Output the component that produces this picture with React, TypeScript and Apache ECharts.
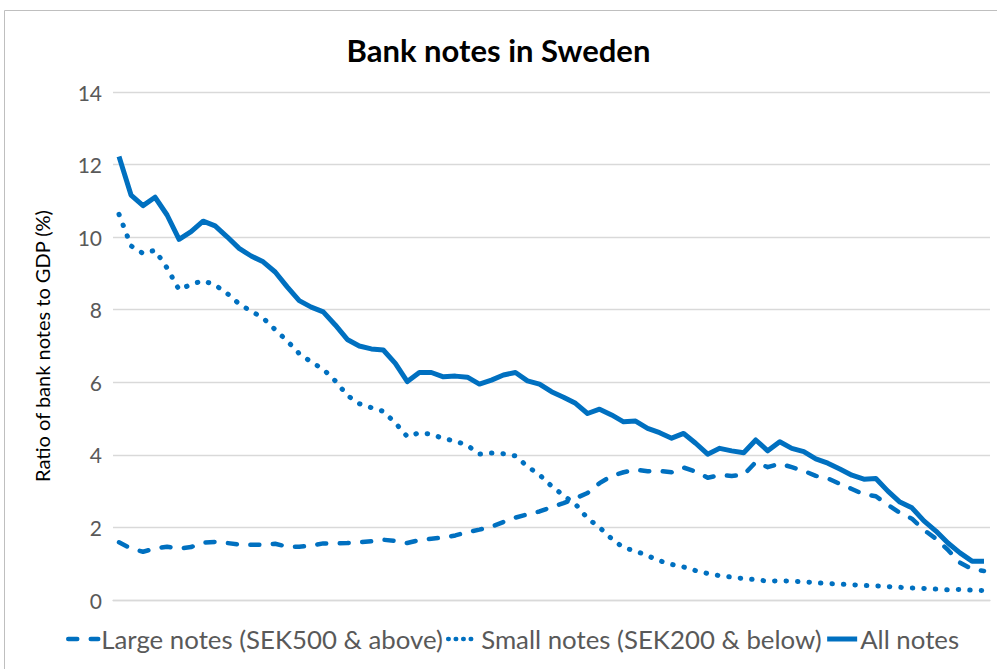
import React, { useEffect, useRef } from "react";
import * as echarts from "echarts";

const years = [
  "1950","1951","1952","1953","1954","1955","1956","1957","1958","1959",
  "1960","1961","1962","1963","1964","1965","1966","1967","1968","1969",
  "1970","1971","1972","1973","1974","1975","1976","1977","1978","1979",
  "1980","1981","1982","1983","1984","1985","1986","1987","1988","1989",
  "1990","1991","1992","1993","1994","1995","1996","1997","1998","1999",
  "2000","2001","2002","2003","2004","2005","2006","2007","2008","2009",
  "2010","2011","2012","2013","2014","2015","2016","2017","2018","2019",
  "2020","2021","2022",
];

const largeNotes = [
  1.59, 1.42, 1.33, 1.42, 1.47, 1.42, 1.46, 1.58, 1.6, 1.57,
  1.53, 1.52, 1.52, 1.55, 1.47, 1.47, 1.5, 1.56, 1.56, 1.57,
  1.59, 1.62, 1.66, 1.63, 1.57, 1.65, 1.69, 1.72, 1.78, 1.87,
  1.94, 2.02, 2.15, 2.27, 2.36, 2.44, 2.56, 2.67, 2.8, 2.95,
  3.22, 3.42, 3.52, 3.59, 3.55, 3.56, 3.52, 3.65, 3.54, 3.37,
  3.44, 3.42, 3.45, 3.8, 3.66, 3.76, 3.66, 3.56, 3.42, 3.35,
  3.2, 3.06, 2.91, 2.86, 2.62, 2.4, 2.24, 1.93, 1.69, 1.38,
  1.03, 0.85, 0.8,
];

const smallNotes = [
  10.63, 9.76, 9.55, 9.64, 9.15, 8.55, 8.7, 8.8, 8.68, 8.45,
  8.16, 7.96, 7.77, 7.45, 7.14, 6.79, 6.56, 6.36, 6.04, 5.64,
  5.41, 5.3, 5.2, 4.88, 4.5, 4.61, 4.57, 4.45, 4.38, 4.26,
  4.02, 4.05, 4.03, 3.97, 3.68, 3.45, 3.14, 2.88, 2.64, 2.25,
  2.0, 1.69, 1.44, 1.35, 1.22, 1.08, 0.98, 0.91, 0.81, 0.73,
  0.67, 0.63, 0.59, 0.56, 0.52, 0.53, 0.52, 0.5, 0.48, 0.45,
  0.44, 0.42, 0.4, 0.39, 0.37, 0.35, 0.33, 0.32, 0.3, 0.28,
  0.29, 0.27, 0.26,
];

const allNotes = [
  12.22, 11.16, 10.87, 11.1, 10.61, 9.94, 10.15, 10.44, 10.31, 10.01,
  9.69, 9.48, 9.32, 9.04, 8.63, 8.25, 8.07, 7.94, 7.58, 7.18,
  7.0, 6.92, 6.89, 6.52, 6.02, 6.27, 6.27, 6.15, 6.17, 6.14,
  5.95, 6.06, 6.2, 6.27, 6.04, 5.95, 5.74, 5.59, 5.42, 5.14,
  5.26, 5.1, 4.91, 4.93, 4.73, 4.61, 4.46, 4.59, 4.32, 4.02,
  4.18, 4.11, 4.06, 4.41, 4.11, 4.36, 4.18, 4.09, 3.89, 3.77,
  3.61, 3.44, 3.33, 3.35, 3.0, 2.7, 2.54, 2.18, 1.9, 1.57,
  1.3, 1.07, 1.07,
];

const yTicks = { min: 0, max: 14, interval: 2 };

const BLUE = "#0070C0";
const FONT = "Lato, 'Open Sans', sans-serif";
const DASH = [9, 13.5];
const DOT = [0.5, 11];

export default function App() {
  const ref = useRef<HTMLDivElement>(null);

  useEffect(() => {
    if (!ref.current) return;
    const chart = echarts.init(ref.current, null, { renderer: "svg" });
    chart.setOption({
      animation: false,
      backgroundColor: "#ffffff",
      textStyle: { fontFamily: FONT },
      title: {
        text: "Bank notes in Sweden",
        left: "center",
        top: 29,
        textStyle: { fontSize: 31, fontWeight: "bold", color: "#000000", fontFamily: FONT },
      },
      graphic: [
        {
          type: "rect",
          shape: { x: 4.5, y: 10.5, width: 1000, height: 700 },
          style: { fill: "none", stroke: "#bfbfbf", lineWidth: 1 },
          silent: true,
        },
      ],
      grid: { left: 113, right: 7, top: 92, bottom: 69, containLabel: false },
      legend: {
        bottom: 12,
        left: 61,
        itemWidth: 30,
        itemHeight: 14,
        itemGap: 3,
        itemStyle: { opacity: 0 },
        textStyle: { fontSize: 25.8, color: "#595959", fontFamily: FONT, padding: [0, 0, 0, -2] },
        data: [
          { name: "Large notes (SEK500 & above)", lineStyle: { width: 4.5, type: DASH, cap: "round", color: BLUE } },
          { name: "Small notes (SEK200 & below)", lineStyle: { width: 4.5, type: [0.5, 7], cap: "round", color: BLUE } },
          { name: "All notes", lineStyle: { width: 5, type: "solid", color: BLUE } },
        ],
      },
      xAxis: {
        type: "category",
        data: years,
        boundaryGap: true,
        axisLine: { show: true, lineStyle: { color: "#d9d9d9", width: 1.3 } },
        axisTick: { show: false },
        axisLabel: { show: false },
      },
      yAxis: {
        type: "value",
        min: yTicks.min,
        max: yTicks.max,
        interval: yTicks.interval,
        name: "Ratio of bank notes to GDP (%)",
        nameLocation: "middle",
        nameGap: 61,
        nameRotate: 90,
        nameTextStyle: { fontSize: 20, color: "#000000", fontFamily: FONT },
        axisLine: { show: false },
        axisTick: { show: false },
        axisLabel: { fontSize: 21, color: "#595959", margin: 11, fontFamily: FONT },
        splitLine: { lineStyle: { color: "#d9d9d9", width: 1.3 } },
      },
      series: [
        {
          name: "Large notes (SEK500 & above)",
          type: "line",
          data: largeNotes,
          symbol: "none",
          lineStyle: { color: BLUE, width: 4.5, type: DASH, cap: "round", join: "round" },
          itemStyle: { color: BLUE },
        },
        {
          name: "Small notes (SEK200 & below)",
          type: "line",
          data: smallNotes,
          symbol: "none",
          lineStyle: { color: BLUE, width: 5, type: DOT, cap: "round", join: "round" },
          itemStyle: { color: BLUE },
        },
        {
          name: "All notes",
          type: "line",
          data: allNotes,
          symbol: "none",
          lineStyle: { color: BLUE, width: 5, type: "solid", join: "round" },
          itemStyle: { color: BLUE },
        },
      ],
    });
    return () => chart.dispose();
  }, []);

  return (
    <div
      ref={ref}
      style={{ position: "fixed", left: 0, top: 0, width: 997, height: 669 }}
    />
  );
}
